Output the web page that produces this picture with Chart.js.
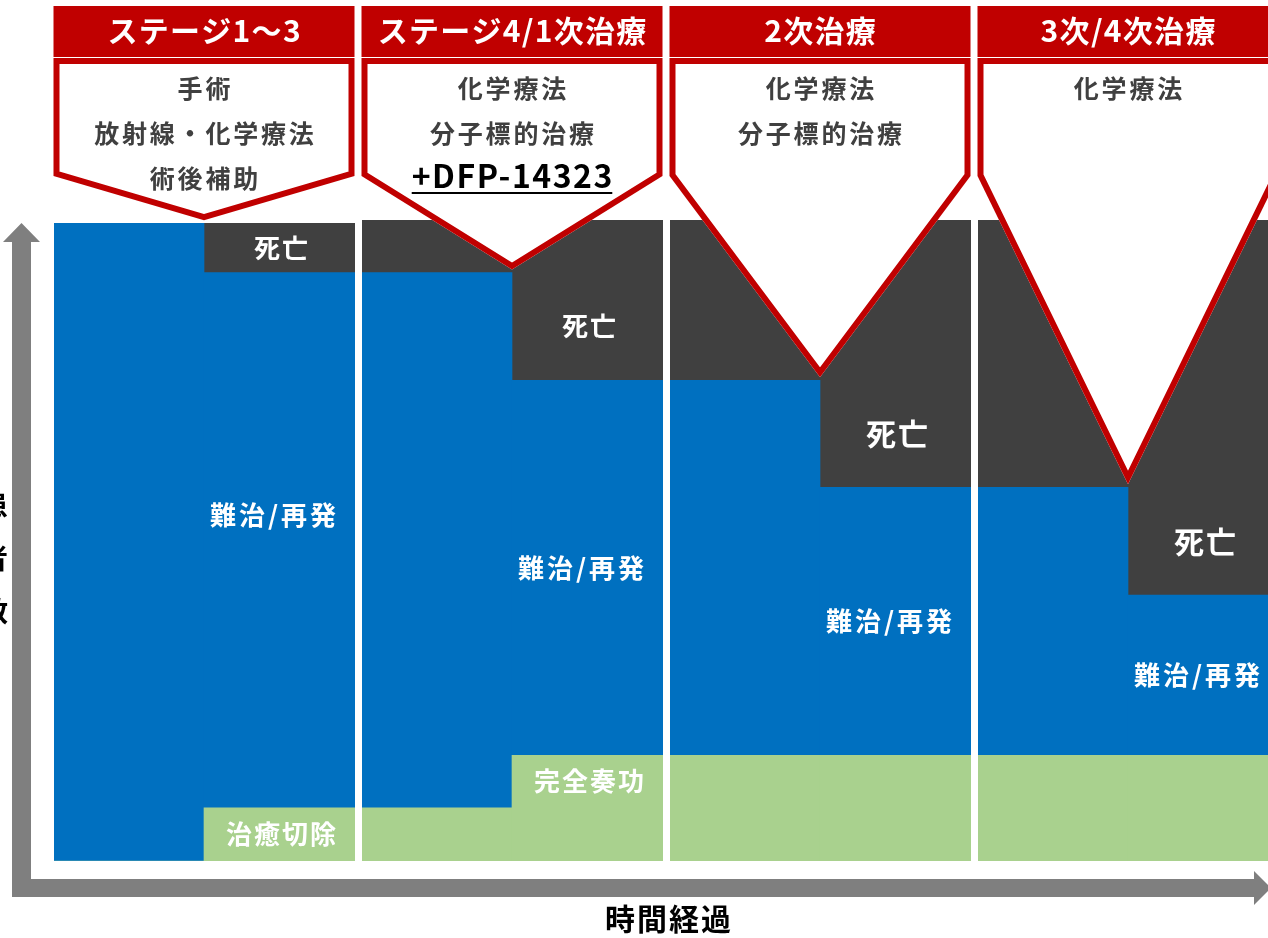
<!DOCTYPE html>
<html lang="ja">
<head>
<meta charset="UTF-8">
<title>治療ステージと患者数</title>
<script src="https://cdn.jsdelivr.net/npm/chart.js"></script>
<style>
  html, body { margin: 0; padding: 0; background: #fff; overflow: hidden; }
  canvas { display: block; }
</style>
</head>
<body>
<canvas id="stages" width="1282" height="938"></canvas>
<script>
// 4 stages, each column split in a "before" and an "after" half
const stages = ['ステージ1〜3', 'ステージ4/1次治療', '2次治療', '3次/4次治療'];
const slots = ['1前', '1後', '2前', '2後', '3前', '3後', '4前', '4後'];
const boxLines = [
  ['手術', '放射線・化学療法', '術後補助'],
  ['化学療法', '分子標的治療', '+DFP-14323'],
  ['化学療法', '分子標的治療'],
  ['化学療法']
];
// share of patients, top of a column = 100
const cured   = [0, 8.3, 8.3, 16.5, 16.5, 16.5, 16.5, 16.5];
const relapse = [99.5, 83.5, 83.5, 58.5, 58.5, 41.8, 41.8, 25];
const death   = [0, 7.7, 8.2, 25, 25, 41.7, 41.7, 58.5];
const curedLabels = ['治癒切除', '完全奏功', '', ''];
const relapseLabel = '難治/再発';
const deathLabel = '死亡';

const FONT = '"Noto Sans CJK JP", "Noto Sans", sans-serif';
const RED = '#c00000';

function text(ctx, s, x, y, size, color, spacing) {
  const sp = spacing || 0;
  ctx.font = 'bold ' + size + 'px ' + FONT;
  ctx.letterSpacing = sp + 'px';
  ctx.fillStyle = color;
  ctx.textAlign = 'center';
  ctx.textBaseline = 'middle';
  ctx.fillText(s, x + sp / 2, y);
  const w = ctx.measureText(s).width - sp;
  ctx.letterSpacing = '0px';
  return w;
}

const overlay = {
  id: 'overlay',
  afterDraw(chart) {
    const { ctx, scales: { x, y } } = chart;
    const cat = x.getPixelForValue(1) - x.getPixelForValue(0);
    const gap = 3.5;
    ctx.save();

    // axis arrows
    ctx.fillStyle = '#7f7f7f';
    ctx.beginPath();
    ctx.moveTo(21.5, 223);
    ctx.lineTo(40, 242);
    ctx.lineTo(31, 242);
    ctx.lineTo(31, 879);
    ctx.lineTo(1254, 879);
    ctx.lineTo(1254, 871);
    ctx.lineTo(1271, 888);
    ctx.lineTo(1254, 905);
    ctx.lineTo(1254, 897);
    ctx.lineTo(12, 897);
    ctx.lineTo(12, 242);
    ctx.lineTo(3, 242);
    ctx.closePath();
    ctx.fill();

    // axis titles
    ['患', '者', '数'].forEach((c, j) => text(ctx, c, -6, 505 + 53 * j, 28, '#000'));
    text(ctx, '時間経過', 668, 919, 30, '#000', 2);

    stages.forEach((name, i) => {
      const L = x.getPixelForValue(2 * i) - cat / 2 + gap;
      const R = x.getPixelForValue(2 * i + 1) + cat / 2 - gap;
      const mid = x.getPixelForValue(2 * i) + cat / 2;
      const cx = (L + R) / 2;

      // header
      ctx.fillStyle = RED;
      ctx.fillRect(L, 6, R - L, 51);
      text(ctx, name, cx, 31, 30, '#fff', 1.3);

      // callout pointing at the top of the blue block
      const tipY = y.getPixelForValue(cured[2 * i] + relapse[2 * i]) - 3;
      ctx.save();
      ctx.beginPath();
      ctx.moveTo(L, 58);
      ctx.lineTo(R, 58);
      ctx.lineTo(R, 176);
      ctx.lineTo(mid, tipY);
      ctx.lineTo(L, 176);
      ctx.closePath();
      ctx.fillStyle = '#fff';
      ctx.fill();
      ctx.clip();
      ctx.lineWidth = 12;
      ctx.strokeStyle = RED;
      ctx.stroke();
      ctx.restore();

      boxLines[i].forEach((t, j) => {
        const ty = 88 + 45 * j;
        if (t.startsWith('+')) {
          const w = text(ctx, t, cx, ty - 2, 32, '#000', 1.5);
          ctx.fillStyle = '#000';
          ctx.fillRect(cx - w / 2, 192, w, 2);
        } else {
          text(ctx, t, cx, ty, 25, '#404040', 2.8);
        }
      });

      // labels in the "after" half
      const a = 2 * i, b = 2 * i + 1;
      const bx = x.getPixelForValue(b);
      const dTop = y.getPixelForValue(cured[a] + relapse[a]);
      const dBot = y.getPixelForValue(cured[b] + relapse[b]);
      text(ctx, deathLabel, bx, (dTop + dBot) / 2, i < 2 ? 26 : 30, '#fff', 2);
      const ry = i === 0
        ? (y.getPixelForValue(cured[b]) + y.getPixelForValue(cured[b] + relapse[b] + death[b])) / 2
        : y.getPixelForValue(cured[b] + relapse[b] / 2);
      text(ctx, relapseLabel, bx - 8, ry, 26, '#fff', 3);
      if (curedLabels[i]) {
        const gy = (y.getPixelForValue(cured[a]) + y.getPixelForValue(cured[b])) / 2;
        text(ctx, curedLabels[i], bx, gy, 26, '#fff', 2);
      }
    });
    ctx.restore();
  }
};

new Chart(document.getElementById('stages'), {
  type: 'bar',
  data: {
    labels: slots,
    datasets: [
      { label: '治癒', data: cured, backgroundColor: '#a9d18e' },
      { label: '難治/再発', data: relapse, backgroundColor: '#0070c0' },
      { label: '死亡', data: death, backgroundColor: '#404040' }
    ]
  },
  options: {
    responsive: false,
    animation: false,
    layout: { padding: { left: 50, right: 0, top: 220, bottom: 77 } },
    datasets: { bar: { barPercentage: 1, categoryPercentage: 1, borderWidth: 0 } },
    plugins: { legend: { display: false }, tooltip: { enabled: false } },
    scales: {
      x: {
        stacked: true,
        ticks: { display: false },
        border: { display: false },
        grid: {
          offset: true,
          z: 1,
          drawTicks: false,
          lineWidth: 7,
          color: c => (c.index !== undefined && c.index % 2 === 0) ? '#fff' : 'rgba(0,0,0,0)'
        }
      },
      y: { stacked: true, display: false, min: 0, max: 100 }
    }
  },
  plugins: [overlay]
});
</script>
</body>
</html>
